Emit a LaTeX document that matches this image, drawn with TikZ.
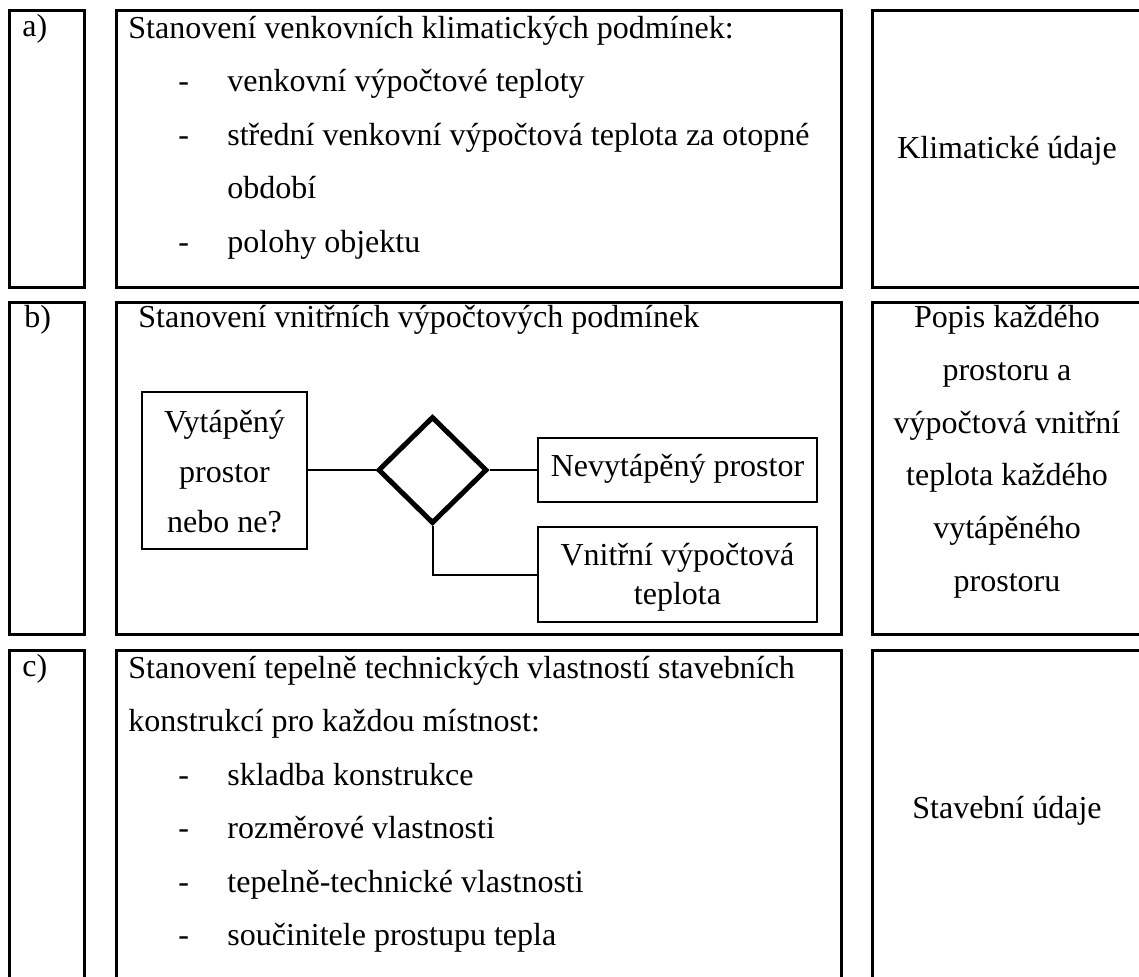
\documentclass[tikz,border=0pt]{standalone}
\usepackage{fontspec}
\setmainfont{Liberation Serif}
\usetikzlibrary{shapes.geometric}
\begin{document}
\begin{tikzpicture}[x=0.5pt,y=-0.5pt,
  frame/.style={draw, line width=1.5pt},
  ibox/.style={draw, line width=1pt, inner sep=0pt},
  conn/.style={line width=1pt},
  txt/.style={inner sep=0pt, anchor=base west, font=\fontsize{16}{19}\selectfont},
  ctxt/.style={inner sep=0pt, anchor=base, font=\fontsize{16}{19}\selectfont},
]
\useasboundingbox (0,0) rectangle (1139,976);
\clip (0,0) rectangle (1139,976);

% ---- frames ----
\draw[frame] (9,10) rectangle (84,287);
\draw[frame] (116,10) rectangle (841,287);
\draw[frame] (872,10) rectangle (1143,287);
\draw[frame] (9,302) rectangle (84,634);
\draw[frame] (116,302) rectangle (841,634);
\draw[frame] (872,302) rectangle (1143,634);
\draw[frame] (9,650) rectangle (84,1000);
\draw[frame] (116,650) rectangle (841,1000);
\draw[frame] (872,650) rectangle (1143,1000);

% ---- row a ----
\node[txt] (la) at (22,36) {a)};
\node[txt] (a0) at (128,38) {Stanovení venkovních klimatických podmínek:};
\node[txt] (a1d) at (178,91.5) {-};
\node[txt] (a1) at (227,91.5) {venkovní výpočtové teploty};
\node[txt] (a2d) at (178,145) {-};
\node[txt] (a2) at (227,145) {střední venkovní výpočtová teplota za otopné};
\node[txt] (a3) at (227,198.5) {období};
\node[txt] (a4d) at (178,252) {-};
\node[txt] (a4) at (227,252) {polohy objektu};
\node[ctxt] (ar) at (1007,158) {Klimatické údaje};

% ---- row b ----
\node[txt] (lb) at (24,327) {b)};
\node[txt] (b0) at (138,327) {Stanovení vnitřních výpočtových podmínek};

\node[ibox, minimum width=82.5pt, minimum height=78.5pt] (vyt) at (224.5,470) {};
\node[ctxt] (vyt1) at (224.5,432) {Vytápěný};
\node[ctxt] (vyt2) at (224.5,482) {prostor};
\node[ctxt] (vyt3) at (224.5,532) {nebo ne?};

\node[diamond, draw, line width=2.5pt, inner sep=0pt, minimum width=54.5pt, minimum height=53.5pt] (dia) at (432.5,470) {};

\node[ibox, minimum width=139.5pt, minimum height=32pt] (nev) at (677.5,470) {};
\node[ctxt] (nevt) at (677.5,476) {Nevytápěný prostor};

\node[ibox, minimum width=139.5pt, minimum height=47.5pt] (vni) at (677.5,574.5) {};
\node[ctxt] (vni1) at (677.5,565) {Vnitřní výpočtová};
\node[ctxt] (vni2) at (677.5,604) {teplota};

\draw[conn] (vyt.east) -- (dia.west);
\draw[conn] (dia.east) -- (nev.west);
\draw[conn] (dia.south) |- (vni.west);

\node[ctxt] (br1) at (1007,327) {Popis každého};
\node[ctxt] (br2) at (1007,380) {prostoru a};
\node[ctxt] (br3) at (1007,433) {výpočtová vnitřní};
\node[ctxt] (br4) at (1007,485) {teplota každého};
\node[ctxt] (br5) at (1007,538) {vytápěného};
\node[ctxt] (br6) at (1007,591) {prostoru};

% ---- row c ----
\node[txt] (lc) at (22,676) {c)};
\node[txt] (c0) at (128,678) {Stanovení tepelně technických vlastností stavebních};
\node[txt] (c1) at (128,731.5) {konstrukcí pro každou místnost:};
\node[txt] (c2d) at (178,785) {-};
\node[txt] (c2) at (227,785) {skladba konstrukce};
\node[txt] (c3d) at (178,838.5) {-};
\node[txt] (c3) at (227,838.5) {rozměrové vlastnosti};
\node[txt] (c4d) at (178,892) {-};
\node[txt] (c4) at (227,892) {tepelně-technické vlastnosti};
\node[txt] (c5d) at (178,945.5) {-};
\node[txt] (c5) at (227,945.5) {součinitele prostupu tepla};
\node[ctxt] (cr) at (1007,818) {Stavební údaje};
\end{tikzpicture}
\end{document}
